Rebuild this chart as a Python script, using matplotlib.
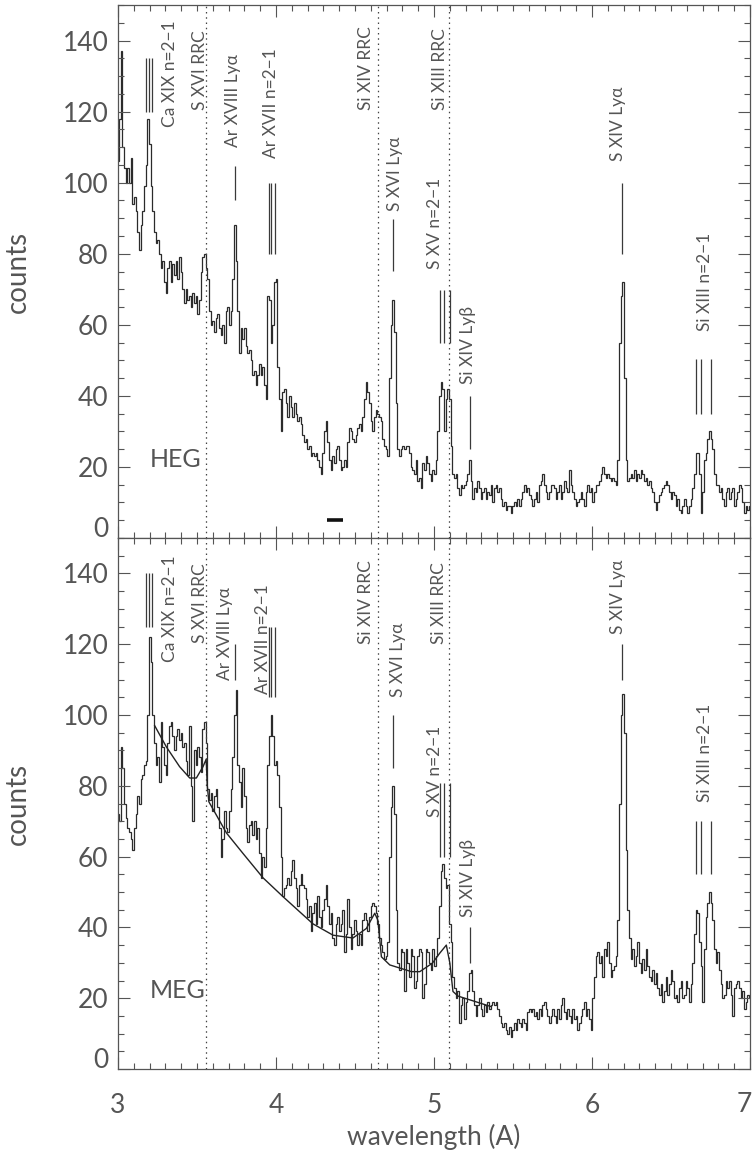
import numpy as np
import matplotlib
matplotlib.use("Agg")
import matplotlib.pyplot as plt
from matplotlib.ticker import MultipleLocator, FuncFormatter
from matplotlib.transforms import offset_copy

plt.rcParams["font.family"] = ["Lato", "DejaVu Sans"]
plt.rcParams["font.weight"] = "normal"

# ---------------------------------------------------------------- data
WL_START = 3.0      # centre of first bin (Angstrom)
WL_STEP = 0.01055   # bin width (Angstrom)

heg_counts = [
    106, 118, 137, 110, 104, 100, 104, 100, 107, 94,
    96, 92, 86, 81, 88, 92, 99, 105, 118, 111,
    99, 92, 86, 83, 84, 80, 76, 78, 72, 69,
    76, 78, 72, 77, 74, 78, 73, 79, 75, 70,
    66, 70, 67, 68, 65, 69, 66, 68, 63, 67,
    75, 79, 80, 76, 73, 64, 60, 61, 58, 62,
    63, 59, 57, 60, 55, 64, 65, 60, 64, 73,
    88, 78, 64, 52, 59, 56, 59, 54, 52, 53,
    50, 46, 47, 43, 46, 49, 46, 48, 43, 39,
    68, 67, 55, 60, 72, 73, 48, 39, 30, 41,
    42, 38, 34, 40, 37, 34, 38, 35, 33, 34,
    32, 29, 27, 28, 25, 26, 23, 24, 23, 24,
    22, 20, 18, 24, 30, 33, 27, 22, 19, 23,
    21, 25, 26, 22, 19, 20, 22, 20, 27, 31,
    30, 28, 27, 29, 31, 32, 30, 34, 39, 44,
    41, 38, 33, 30, 34, 36, 35, 34, 33, 28,
    26, 25, 23, 45, 60, 67, 58, 38, 25,
    23, 25, 26, 25, 26, 26, 24, 20, 19, 18,
    22, 16, 17, 14, 21, 19, 23, 21, 18, 16,
    19, 18, 22, 30, 40, 44, 42, 30, 39, 42,
    39, 26, 18, 17, 18, 14, 12, 15, 14, 15,
    16, 18, 22, 16, 11, 14, 13, 16, 14, 11,
    13, 14, 11, 13, 12, 15, 10, 14, 15, 13,
    14, 11, 9, 10, 8, 9, 9, 7, 9, 10,
    9, 11, 9, 11, 13, 15, 13, 14, 12, 11,
    9, 11, 13, 10, 15, 16, 18, 15, 13, 11,
    13, 15, 15, 14, 11, 13, 15, 11, 13, 16,
    14, 13, 19, 15, 13, 11, 9, 10, 11, 13,
    11, 9, 13, 15, 13, 14, 10, 13, 15, 15,
    16, 18, 20, 18, 17, 18, 17, 16, 17, 16,
    15, 22, 55, 68, 72, 45, 22, 16, 17, 18,
    17, 19, 16, 18, 17, 19, 18, 16, 17, 15,
    16, 14, 13, 10, 8, 10, 12, 13, 14, 15,
    16, 15, 13, 11, 13, 12, 9, 11, 8, 7,
    9, 11, 9, 7, 9, 11, 14, 18, 24, 24,
    18, 7, 13, 22, 24, 28, 30, 28, 25, 18,
    15, 15, 13, 14, 11, 9, 13, 14, 11, 13,
    14, 9, 11, 13, 15, 14, 10, 7, 9, 8,
    9,
]

meg_counts = [
    72, 70, 91, 85, 75, 71, 68, 67, 65, 62,
    68, 72, 77, 75, 82, 83, 86, 87, 100, 122,
    115, 100, 92, 86, 88, 81, 98, 91, 86, 83,
    92, 97, 98, 94, 90, 94, 96, 93, 95, 91,
    92, 87, 83, 97, 80, 70, 90, 86, 91, 88,
    84, 96, 98, 92, 79, 76, 78, 73, 77, 79,
    74, 68, 60, 65, 73, 68, 67, 73, 79, 88,
    100, 107, 86, 81, 74, 85, 77, 68, 64, 69,
    70, 66, 70, 65, 68, 61, 54, 60, 57, 68,
    86, 94, 100, 94, 86, 87, 83, 74, 60, 49,
    51, 52, 54, 52, 56, 59, 54, 51, 46, 52,
    55, 52, 51, 48, 43, 46, 39, 44, 47, 41,
    49, 43, 40, 45, 48, 52, 46, 41, 44, 37,
    35, 41, 43, 39, 41, 45, 33, 38, 48, 40,
    34, 38, 42, 39, 35, 38, 35, 42, 44, 42,
    39, 43, 46, 47, 46, 44, 41, 37, 35, 33,
    31, 32, 36, 60, 74, 80, 72, 45, 30,
    28, 34, 33, 22, 34, 30, 26, 34, 32, 23,
    25, 32, 34, 33, 20, 24, 34, 33, 30, 28,
    34, 29, 32, 37, 46, 56, 58, 54, 51, 52,
    41, 36, 26, 23, 20, 22, 13, 18, 20, 14,
    19, 22, 27, 28, 22, 18, 15, 18, 20, 17,
    15, 18, 16, 19, 17, 18, 19, 18, 19, 17,
    15, 13, 12, 13, 11, 10, 12, 9, 11, 13,
    11, 14, 13, 12, 14, 13, 11, 16, 17, 16,
    17, 15, 16, 14, 17, 15, 18, 19, 17, 15,
    13, 15, 17, 15, 13, 17, 14, 18, 20, 16,
    14, 17, 15, 13, 17, 14, 15, 11, 13, 15,
    17, 19, 15, 17, 14, 11, 20, 26, 32, 33,
    30, 32, 26, 34, 32, 36, 30, 26, 28, 29,
    32, 42, 75, 100, 106, 95, 62, 45, 37, 31,
    34, 29, 32, 36, 30, 27, 31, 28, 34, 29,
    26, 25, 28, 24, 27, 23, 21, 24, 19, 22,
    26, 21, 24, 28, 25, 20, 21, 19, 23, 25,
    20, 21, 25, 23, 19, 24, 30, 38, 45, 44,
    36, 29, 19, 34, 43, 47, 50, 47, 42, 34,
    30, 33, 28, 24, 20, 21, 25, 23, 25, 21,
    15, 23, 24, 25, 23, 20, 22, 17, 19, 21,
    20,
]

# continuum + edge model for the MEG spectrum
model_wl = [3.232, 3.306, 3.39, 3.454, 3.496, 3.538, 3.558, 3.565, 3.575,
            3.686, 3.791, 3.918, 4.044, 4.234, 4.361, 4.487, 4.572, 4.625,
            4.645, 4.667, 4.72, 4.857, 4.91, 4.99, 5.036, 5.078, 5.1, 5.12,
            5.152, 5.363]
model_counts = [97, 91, 85.4, 82.2, 82.2, 85.4, 87.5, 80, 75.5,
                66.7, 60.9, 54, 48.7, 41, 37.8, 37, 39.7, 44,
                42, 31.7, 29.4, 27.5, 27.5, 29.9, 32.7, 35, 30, 21.9,
                20.6, 17.6]

# recombination edges (dotted lines)
edge_wl = [3.56, 4.645, 5.095]

# line identifications
label_names = ["Ca XIX n=2\u22121", "S XVI RRC", "Ar XVIII Ly\u03b1",
               "Ar XVII n=2\u22121", "Si XIV RRC", "S XVI Ly\u03b1",
               "Si XIII RRC", "S XV n=2\u22121", "Si XIV Ly\u03b2",
               "S XIV Ly\u03b1", "Si XIII n=2\u22121"]
heg_label_x = [3.327, 3.517, 3.728, 3.971, 4.572, 4.751, 5.036, 5.005, 5.215, 6.165, 6.713]
heg_label_y = [115.8, 120.4, 110, 107, 120.4, 92, 120.4, 75.7, 43.2, 106, 58.3]
meg_label_x = [3.327, 3.517, 3.675, 3.918, 4.572, 4.77, 5.033, 5.005, 5.215, 6.165, 6.713]
meg_label_y = [115, 120.3, 110, 106, 120, 105, 120, 71.3, 43, 123, 75.5]

# marker ticks: wavelengths and vertical extent in each panel
marker_wl = [[3.18, 3.197, 3.216], [3.739], [3.956, 3.971, 3.992], [4.741],
             [5.039, 5.066, 5.102], [5.226], [6.193], [6.657, 6.693, 6.750]]
heg_marker_lo = [120, 95, 80, 75.2, 55, 25, 80, 35]
heg_marker_hi = [135, 104.8, 100, 89.8, 69.9, 40, 100, 50.3]
meg_marker_lo = [125, 110, 105, 85, 60, 30, 110, 55]
meg_marker_hi = [140, 120, 125, 100, 80.8, 40, 120, 70]

# resolution bar in the HEG panel
res_bar_wl = [4.325, 4.424]
res_bar_y = 5

# ---------------------------------------------------------------- figure
W, H = 753, 1154
fig = plt.figure(figsize=(W / 100, H / 100), dpi=100)
left, right = 118, 750
ax_top = fig.add_axes([left / W, 1 - 538 / H, (right - left) / W, 533 / H])
ax_bot = fig.add_axes([left / W, 1 - 1069 / H, (right - left) / W, 531 / H])

INK = "#2b2b2b"
TXT = "#555555"
XMAX = 7


def style_axes(ax):
    ax.set_xlim(3, XMAX)
    ax.set_ylim(0, 150)
    ax.xaxis.set_major_locator(MultipleLocator(1))
    ax.xaxis.set_minor_locator(MultipleLocator(0.1))
    ax.yaxis.set_major_locator(MultipleLocator(20))
    ax.yaxis.set_minor_locator(MultipleLocator(5))
    ax.tick_params(which="both", direction="in", top=True, right=True,
                   color="#555555", width=0.8, labelcolor=TXT, labelsize=19)
    ax.tick_params(which="major", length=8.5)
    ax.tick_params(which="minor", length=4.3)
    ax.tick_params(axis="x", pad=17)
    ax.tick_params(axis="y", pad=7)
    for sp in ax.spines.values():
        sp.set_color("#555555")
        sp.set_linewidth(0.9)
    # the bottom "0" label sits a little above its tick
    ax.yaxis.set_major_formatter(FuncFormatter(lambda v, p: "" if v == 0 else f"{v:.0f}"))
    tr = offset_copy(ax.get_yaxis_transform(), fig=fig, x=-10, y=9, units="dots")
    ax.text(0, 0, "0", transform=tr, ha="right", va="center", fontsize=19, color=TXT)
    ax.set_ylabel("counts", fontsize=20, color=TXT)
    ax.yaxis.set_label_coords(-(left - 31) / (right - left), 0.5)


def draw_panel(ax, counts, lab_x, lab_y, mk_lo, mk_hi, name):
    counts = np.asarray(counts, dtype=float)
    edges = WL_START - WL_STEP / 2 + WL_STEP * np.arange(len(counts) + 1)
    ax.stairs(counts, edges, baseline=None, color=INK, lw=0.9)
    for wl in edge_wl:
        ax.axvline(wl, color="#444444", lw=0.9, ls=(0, (1.2, 3.0)))
    for txt, x, y in zip(label_names, lab_x, lab_y):
        ax.text(x, y, txt, rotation=90, ha="center", va="bottom",
                fontsize=12.5, color=TXT)
    for wls, lo, hi in zip(marker_wl, mk_lo, mk_hi):
        ax.vlines(wls, lo, hi, color="#3a3a3a", lw=0.9)
    ax.text(3.2, 20, name, fontsize=18, color=TXT, ha="left", va="baseline")


style_axes(ax_top)
style_axes(ax_bot)

draw_panel(ax_top, heg_counts, heg_label_x, heg_label_y,
           heg_marker_lo, heg_marker_hi, "HEG")
ax_top.hlines(res_bar_y, res_bar_wl[0], res_bar_wl[1], color="#111111", lw=2.6)
ax_top.tick_params(axis="x", labelbottom=False)

draw_panel(ax_bot, meg_counts, meg_label_x, meg_label_y,
           meg_marker_lo, meg_marker_hi, "MEG")
ax_bot.plot(model_wl, model_counts, color="#222222", lw=1.0)

# last wavelength label nudged inside the canvas
ax_bot.xaxis.set_major_formatter(FuncFormatter(lambda v, p: "" if v == XMAX else f"{v:.0f}"))
tr_x = offset_copy(ax_bot.get_xaxis_transform(), fig=fig, x=-6, y=-23, units="dots")
ax_bot.text(XMAX, 0, f"{XMAX}", transform=tr_x, ha="center", va="top",
            fontsize=19, color=TXT)

ax_bot.set_xlabel("wavelength (A)", fontsize=19, color=TXT)
ax_bot.xaxis.set_label_coords(0.5, -(1124 - 1069) / 531)

fig.savefig("out.png", dpi=100, facecolor="white")
